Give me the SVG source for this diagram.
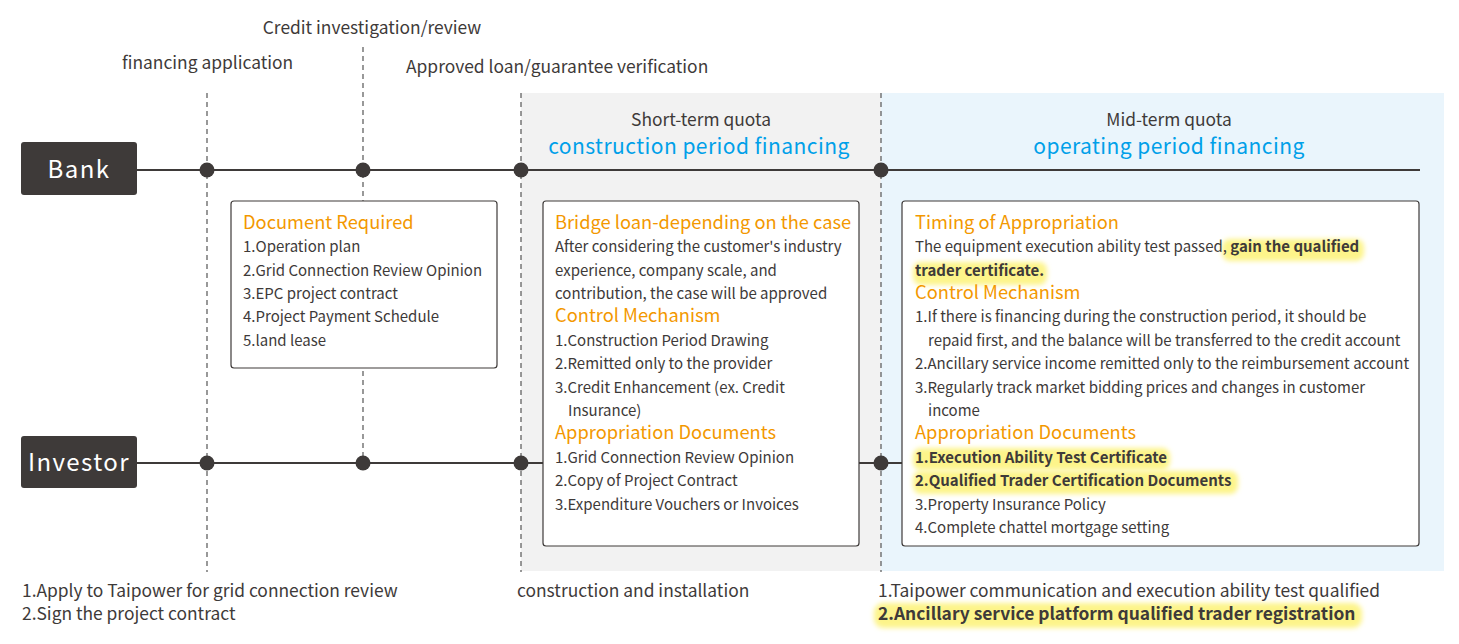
<svg xmlns="http://www.w3.org/2000/svg" width="1459" height="644" viewBox="0 0 1459 644">
<defs>
<style>
text{font-family:"Noto Sans CJK SC","Noto Sans",sans-serif;fill:#3e3a39}
.lbl{font-size:17.4px}
.body{font-size:15px}
.ttl{font-size:18.3px;fill:#f39800}
.blue{font-size:21px;fill:#00a0e9;letter-spacing:0.45px}
.b{font-weight:bold}
.actor{font-size:24px;fill:#fff;letter-spacing:1.4px}
.box{fill:#fff;stroke:#3e3a39;stroke-width:1.2}
.dash{stroke:#555;stroke-width:1.2;stroke-dasharray:5 4;fill:none}
.line{stroke:#3e3a39;stroke-width:2;fill:none}
.dot{fill:#3e3a39}
.hl{fill:#fdf48a;filter:url(#blur)}
</style>
<filter id="blur" x="-10%" y="-50%" width="120%" height="200%"><feGaussianBlur stdDeviation="2.5"/></filter>
</defs>
<rect width="1459" height="644" fill="#fff"/>
<g id="backgrounds">
<rect x="521" y="93" width="360" height="478" fill="#f2f2f2"/>
<rect x="881" y="93" width="563" height="478" fill="#eaf5fc"/>
</g>
<g id="connectors">
<line class="dash" x1="207" y1="93" x2="207" y2="572"/>
<line class="dash" x1="363" y1="47" x2="363" y2="463"/>
<line class="dash" x1="521" y1="93" x2="521" y2="572"/>
<line class="dash" x1="881" y1="93" x2="881" y2="572"/>
<line class="line" x1="137" y1="170" x2="1420" y2="170"/>
<line class="line" x1="137" y1="463" x2="543" y2="463"/>
<line class="line" x1="859" y1="463" x2="902" y2="463"/>
<circle class="dot" cx="207" cy="170" r="7.5"/>
<circle class="dot" cx="363" cy="170" r="7.5"/>
<circle class="dot" cx="521" cy="170" r="7.5"/>
<circle class="dot" cx="881" cy="170" r="7.5"/>
<circle class="dot" cx="207" cy="463" r="7.5"/>
<circle class="dot" cx="363" cy="463" r="7.5"/>
<circle class="dot" cx="521" cy="463" r="7.5"/>
<circle class="dot" cx="881" cy="463" r="7.5"/>
</g>
<g id="bank">
<rect x="21" y="142" width="116" height="53" rx="3" fill="#3e3a39"/>
<text class="actor" x="79" y="178" text-anchor="middle">Bank</text>
</g>
<g id="investor">
<rect x="21" y="436" width="116" height="52" rx="3" fill="#3e3a39"/>
<text class="actor" x="79" y="471" text-anchor="middle">Investor</text>
</g>
<g id="step-labels">
<text class="lbl" x="372" y="34" text-anchor="middle">Credit investigation/review</text>
<text class="lbl" x="122" y="69">financing application</text>
<text class="lbl" x="406" y="73">Approved loan/guarantee verification</text>
</g>
<g id="short-term-header">
<text class="lbl" x="701" y="126" text-anchor="middle">Short-term quota</text>
<text class="blue" x="699" y="153.5" text-anchor="middle">construction period financing</text>
</g>
<g id="mid-term-header">
<text class="lbl" x="1169" y="126" text-anchor="middle">Mid-term quota</text>
<text class="blue" x="1169" y="153.5" text-anchor="middle">operating period financing</text>
</g>
<g id="document-required">
<rect class="box" x="231" y="201" width="266" height="167" rx="3"/>
<text class="ttl" x="243" y="229">Document Required</text>
<text class="body" x="243" y="252">1.Operation plan</text>
<text class="body" x="243" y="276">2.Grid Connection Review Opinion</text>
<text class="body" x="243" y="299">3.EPC project contract</text>
<text class="body" x="243" y="322">4.Project Payment Schedule</text>
<text class="body" x="243" y="346">5.land lease</text>
</g>
<g id="bridge-loan">
<rect class="box" x="543" y="201" width="316" height="345" rx="3"/>
<text class="ttl" x="555" y="229">Bridge loan-depending on the case</text>
<text class="body" x="555" y="252">After considering the customer's industry</text>
<text class="body" x="555" y="276">experience, company scale, and</text>
<text class="body" x="555" y="299">contribution, the case will be approved</text>
<text class="ttl" x="555" y="322">Control Mechanism</text>
<text class="body" x="555" y="346">1.Construction Period Drawing</text>
<text class="body" x="555" y="369">2.Remitted only to the provider</text>
<text class="body" x="555" y="393">3.Credit Enhancement (ex. Credit</text>
<text class="body" x="568" y="416">Insurance)</text>
<text class="ttl" x="555" y="439">Appropriation Documents</text>
<text class="body" x="555" y="463">1.Grid Connection Review Opinion</text>
<text class="body" x="555" y="486">2.Copy of Project Contract</text>
<text class="body" x="555" y="510">3.Expenditure Vouchers or Invoices</text>
</g>
<g id="timing-of-appropriation">
<rect class="box" x="902" y="201" width="517" height="345" rx="3"/>
<rect class="hl" x="1222" y="239" width="142" height="22" rx="8"/>
<rect class="hl" x="913" y="262" width="134" height="23" rx="8"/>
<rect class="hl" x="913" y="448" width="257" height="22" rx="8"/>
<rect class="hl" x="913" y="471" width="325" height="23" rx="8"/>
<text class="ttl" x="915" y="229">Timing of Appropriation</text>
<text class="body" x="915" y="252">The equipment execution ability test passed, <tspan class="b">gain the qualified</tspan></text>
<text class="body b" x="915" y="276">trader certificate.</text>
<text class="ttl" x="915" y="299">Control Mechanism</text>
<text class="body" x="915" y="322">1.If there is financing during the construction period, it should be</text>
<text class="body" x="928" y="346">repaid first, and the balance will be transferred to the credit account</text>
<text class="body" x="915" y="369">2.Ancillary service income remitted only to the reimbursement account</text>
<text class="body" x="915" y="393">3.Regularly track market bidding prices and changes in customer</text>
<text class="body" x="928" y="416">income</text>
<text class="ttl" x="915" y="439">Appropriation Documents</text>
<text class="body b" x="915" y="463">1.Execution Ability Test Certificate</text>
<text class="body b" x="915" y="486">2.Qualified Trader Certification Documents</text>
<text class="body" x="915" y="510">3.Property Insurance Policy</text>
<text class="body" x="915" y="533">4.Complete chattel mortgage setting</text>
</g>
<g id="bottom-labels">
<text class="lbl" x="22" y="597">1.Apply to Taipower for grid connection review</text>
<text class="lbl" x="22" y="620">2.Sign the project contract</text>
<text class="lbl" x="517" y="597">construction and installation</text>
<rect class="hl" x="874" y="603" width="488" height="25" rx="9"/>
<text class="lbl" x="878" y="597">1.Taipower communication and execution ability test qualified</text>
<text class="lbl b" x="878" y="620">2.Ancillary service platform qualified trader registration</text>
</g>
</svg>
